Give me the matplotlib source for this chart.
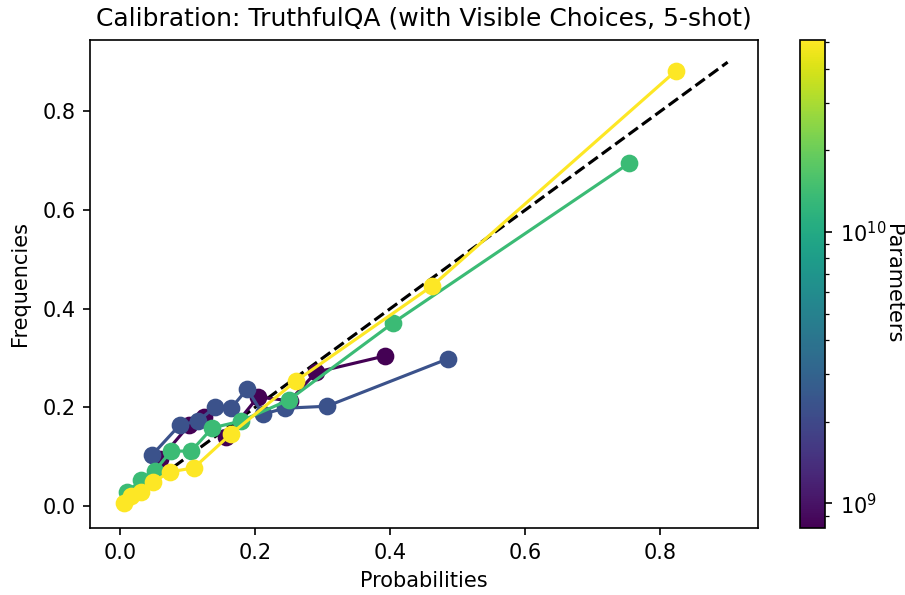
import numpy as np
import matplotlib
matplotlib.use("Agg")
import matplotlib.pyplot as plt
from matplotlib.colors import LogNorm
from matplotlib.cm import ScalarMappable

# Model sizes (parameters)
params = [8.1e8, 2.3e9, 1.36e10, 5.1e10]

# Calibration curves (probability, frequency) per model
prob_0 = [0.059, 0.102, 0.124, 0.156, 0.204, 0.251, 0.290, 0.392]
freq_0 = [0.095, 0.164, 0.180, 0.140, 0.221, 0.213, 0.271, 0.304]

prob_1 = [0.047, 0.088, 0.115, 0.140, 0.164, 0.188, 0.211, 0.244, 0.306, 0.485]
freq_1 = [0.103, 0.164, 0.172, 0.200, 0.198, 0.237, 0.186, 0.198, 0.202, 0.298]

prob_2 = [0.010, 0.031, 0.051, 0.075, 0.105, 0.136, 0.179, 0.250, 0.404, 0.754]
freq_2 = [0.028, 0.052, 0.071, 0.111, 0.111, 0.158, 0.172, 0.215, 0.371, 0.695]

prob_3 = [0.005, 0.016, 0.031, 0.048, 0.074, 0.109, 0.164, 0.260, 0.462, 0.823]
freq_3 = [0.006, 0.020, 0.028, 0.048, 0.069, 0.077, 0.146, 0.253, 0.446, 0.882]

probs = [prob_0, prob_1, prob_2, prob_3]
freqs = [freq_0, freq_1, freq_2, freq_3]

diag = [0.0, 0.9]

fig = plt.figure(figsize=(905 / 150, 595 / 150), dpi=150)
ax = fig.add_axes([90 / 905, 1 - 528 / 595, (758 - 90) / 905, (528 - 40) / 595])
cax = fig.add_axes([800 / 905, 1 - 528 / 595, 25 / 905, (528 - 40) / 595])

norm = LogNorm(vmin=min(params), vmax=max(params))
cmap = plt.get_cmap("viridis")

ax.plot(diag, diag, "k--", zorder=1)
for p, x, y in zip(params, probs, freqs):
    ax.plot(x, y, "-o", color=cmap(norm(p)), markersize=7.5, linewidth=1.5, zorder=2)

ax.set_title("Calibration: TruthfulQA (with Visible Choices, 5-shot)", pad=7)
ax.set_xlabel("Probabilities")
ax.set_ylabel("Frequencies", labelpad=6)

sm = ScalarMappable(norm=norm, cmap=cmap)
sm.set_array([])
cbar = fig.colorbar(sm, cax=cax)
cbar.set_label("Parameters", rotation=270, labelpad=8)

fig.savefig("out.png", dpi=150)
